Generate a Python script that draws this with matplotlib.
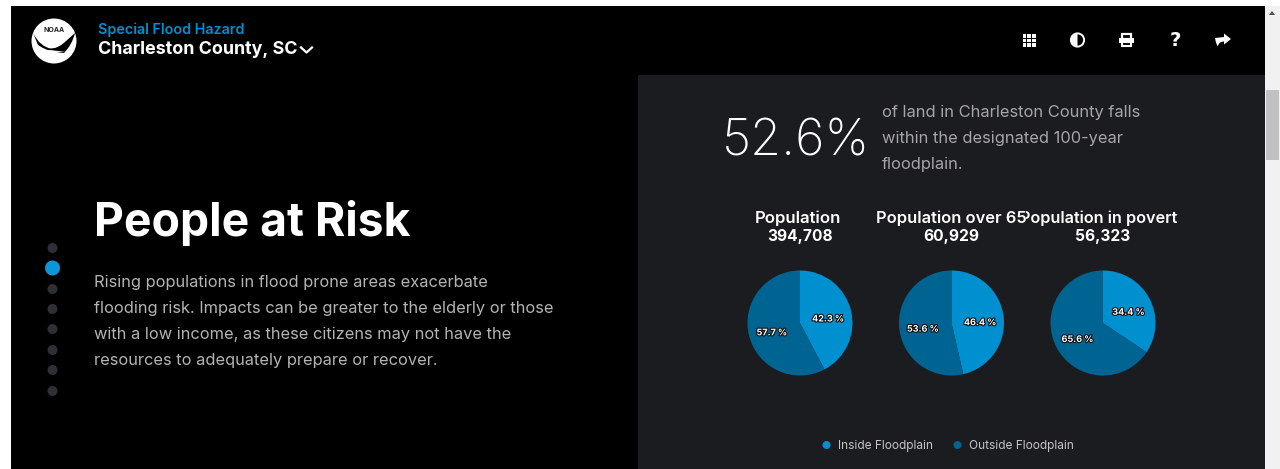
import matplotlib
matplotlib.use('Agg')
from matplotlib import pyplot as plt
from matplotlib.patches import Circle, Rectangle, Wedge, Polygon, PathPatch
from matplotlib.path import Path
import matplotlib.patheffects as pe

W, H = 1280, 469
INSIDE = '#0090d0'
OUTSIDE = '#006493'
PANEL = '#1b1c20'

titles = ['Population', 'Population over 65', 'Population in poverty']
totals = ['394,708', '60,929', '56,323']
inside = [42.3, 46.4, 34.4]
outside = [57.7, 53.6, 65.6]
legend_labels = ['Inside Floodplain', 'Outside Floodplain']
body_lines = ['Rising populations in flood prone areas exacerbate',
              'flooding risk. Impacts can be greater to the elderly or those',
              'with a low income, as these citizens may not have the',
              'resources to adequately prepare or recover.']
stat_lines = ['of land in Charleston County falls',
              'within the designated 100-year',
              'floodplain.']

plt.rcParams['font.family'] = ['Inter', 'DejaVu Sans']

fig = plt.figure(figsize=(W/100, H/100), dpi=100, facecolor='white')
ax = fig.add_axes([0, 0, 1, 1])
ax.set_xlim(0, W)
ax.set_ylim(H, 0)
ax.axis('off')

# page blocks and scrollbar
ax.add_patch(Rectangle((10.5, 6), 1254.5, H-6, fc='black', ec='none'))
ax.add_patch(Rectangle((638, 75), 627, H-75, fc=PANEL, ec='none'))
ax.add_patch(Rectangle((1265, 6), 15, H-6, fc='#f1f1f1', ec='none'))
ax.add_patch(Rectangle((1266, 90), 13, 70, fc='#c1c1c1', ec='none'))
ax.add_patch(Polygon([(1269, 15), (1275, 15), (1272, 11)], fc='#505050', ec='none'))

# logo
ax.add_patch(Circle((54, 41), 22.5, fc='white', ec='none'))
ax.add_patch(PathPatch(Path([(33, 33), (40, 47), (52, 49), (60, 47), (66, 41), (75, 33),
                             (72, 45), (64, 53), (56, 52), (66, 52), (50, 50), (47, 51), (38, 45), (33, 33)],
                            [Path.MOVETO, Path.CURVE3, Path.CURVE3, Path.CURVE3, Path.LINETO, Path.LINETO,
                             Path.CURVE3, Path.CURVE3, Path.LINETO, Path.LINETO, Path.LINETO,
                             Path.CURVE3, Path.CURVE3, Path.CLOSEPOLY]),
                       fc='black', ec='none'))
ax.add_patch(Polygon([(47, 49), (64, 47), (57, 50)], fc='black', ec='none'))
ax.text(54.5, 29.5, 'NOAA', color='#222222', fontsize=5, fontweight='bold', ha='center', va='center')

# header
ax.text(98, 29.5, 'Special Flood Hazard', color=INSIDE, fontsize=10.3, fontweight='semibold', va='center')
ax.text(98, 49.5, 'Charleston County, SC', color='white', fontsize=12.9, fontweight='bold', va='center')
ax.plot([301, 306.5, 312], [47.5, 52.5, 47.5], color='white', lw=1.6)

# toolbar icons
for row in range(3):
    for col in range(3):
        ax.add_patch(Rectangle((1022.5+col*4.8, 34+row*4.6), 3.9, 3.7, fc='white', ec='none'))
ax.add_patch(Circle((1077.5, 40), 6.6, fc='none', ec='white', lw=1.4))
ax.add_patch(Wedge((1077.5, 40), 6.6, 90, 270, fc='white', ec='none'))
ax.add_patch(Rectangle((1121.5, 34), 9.5, 5, fc='none', ec='white', lw=1.6))
ax.add_patch(Rectangle((1119, 38.5), 14.5, 5, fc='white', ec='none'))
ax.add_patch(Rectangle((1121.5, 42.5), 9.5, 4, fc='black', ec='white', lw=1.5))
ax.text(1175, 41, '?', color='white', fontsize=14, fontweight='bold', ha='center', va='center',
        family=['DejaVu Sans'])
ax.add_patch(PathPatch(Path([(1224, 33.5), (1231, 39), (1224, 44.5), (1224, 41.5), (1219, 41.5),
                             (1218, 46), (1216.5, 46), (1215, 38), (1224, 37), (1224, 33.5)],
                            [Path.MOVETO, Path.LINETO, Path.LINETO, Path.LINETO, Path.CURVE3,
                             Path.CURVE3, Path.CURVE3, Path.CURVE3, Path.LINETO, Path.CLOSEPOLY]),
                       fc='white', ec='none'))

# section nav dots
for i, y in enumerate([248, 268, 289, 309, 329, 350, 370, 391]):
    if i == 1:
        ax.add_patch(Circle((52.5, y), 7.5, fc='#0a96d8', ec='none'))
    else:
        ax.add_patch(Circle((52.5, y), 5, fc='#2f3035', ec='none'))

# left column
ax.text(94.5, 223, 'People at Risk', color='white', fontsize=33.3, fontweight='bold', va='center')
for i, line in enumerate(body_lines):
    ax.text(94.5, 283+i*25.9, line, color='#b4b4b4', fontsize=11.8, va='center')

# headline stat
ax.text(722, 141.5, '52.6%', color='white', fontsize=36.3, fontweight='light', va='center')
for i, line in enumerate(stat_lines):
    ax.text(881.5, 113+i*25.8, line, color='#a6a6a8', fontsize=11.85, va='center')

# pies
centers = [800, 951.5, 1103]
title_sizes = [12, 11.85, 11.7]
radius = 52.5
for i, cx in enumerate(centers):
    t = ax.text(cx-2 if i == 0 else cx, 218, titles[i], color='white', fontsize=title_sizes[i],
                fontweight='semibold', ha='center', va='center')
    if i == 2:
        # the long title gets cut off by its chart box
        t.set_clip_path(Rectangle((1026, 205), 152, 40, transform=ax.transData))
        t.set_clip_on(True)
    ax.text(cx, 236, totals[i], color='white', fontsize=11.2, fontweight='bold', ha='center', va='center')

    pie_ax = fig.add_axes([(cx-radius)/W, 1-(323+radius)/H, 2*radius/W, 2*radius/H])
    wedges, texts, pcts = pie_ax.pie([inside[i], outside[i]], colors=[INSIDE, OUTSIDE], startangle=90,
                                     counterclock=False, radius=1, autopct='%.1f %%', pctdistance=0.55,
                                     normalize=True, wedgeprops={'linewidth': 0})
    pie_ax.set_xlim(-1, 1)
    pie_ax.set_ylim(-1, 1)
    for p in pcts:
        px, py = p.get_position()
        p.set_position((px, py-0.055))
        p.set(color='white', fontsize=6.5, fontweight='bold')
        p.set_path_effects([pe.withStroke(linewidth=1.6, foreground='#111111')])

# legend
for x, color, tx, label in zip([826.5, 957.5], [INSIDE, OUTSIDE], [837.5, 969], legend_labels):
    ax.add_patch(Circle((x, 445), 4, fc=color, ec='none'))
    ax.text(tx, 446, label, color='#c4c4c4', fontsize=8.55, va='center')

fig.savefig('out.png', dpi=100, facecolor='white')
